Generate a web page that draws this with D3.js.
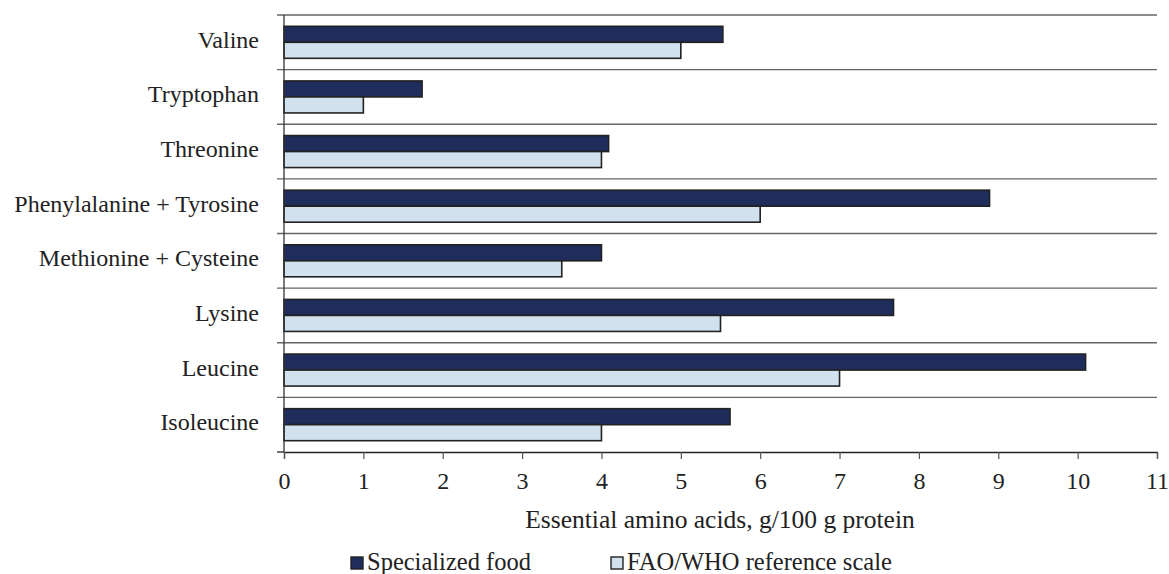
<!DOCTYPE html>
<html><head><meta charset="utf-8">
<script src="https://cdn.jsdelivr.net/npm/d3@7"></script>
<style>body{margin:0;background:#fff}</style>
</head><body>
<svg id="c" width="1169" height="574"></svg>
<script>
const categories = ["Valine","Tryptophan","Threonine","Phenylalanine + Tyrosine","Methionine + Cysteine","Lysine","Leucine","Isoleucine"];
const specialized = [5.53, 1.74, 4.09, 8.89, 4.0, 7.68, 10.1, 5.62];
const reference = [5.0, 1.0, 4.0, 6.0, 3.5, 5.5, 7.0, 4.0];
const seriesNames = ["Specialized food", "FAO/WHO reference scale"];
const xTicks = [0,1,2,3,4,5,6,7,8,9,10,11];
const colors = ["#1e2d5b", "#d1e1ee"];

(function () {
const svg = d3.select("#c");
const font = "'Liberation Serif','Times New Roman',serif";
const pLeft = 284, pRight = 1157, pTop = 15, pBottom = 452;
const x = d3.scaleLinear().domain([0, 11]).range([pLeft, pRight]);
const y = d3.scaleBand().domain(categories).range([pTop, pBottom]);
const inner = d3.scaleBand().domain([0,1]).range([0, 32]);

const bounds = categories.map(c => y(c));
svg.selectAll("line.grid").data(bounds).enter().append("line")
  .attr("x1", pLeft - 7).attr("x2", pRight).attr("y1", d => d).attr("y2", d => d)
  .attr("stroke", "#666").attr("stroke-width", 1.3);

const seriesData = [specialized, reference];
seriesData.forEach((vals, si) => {
  svg.selectAll("rect.s" + si).data(categories).enter().append("rect")
    .attr("x", x(0))
    .attr("y", d => y(d) + (y.bandwidth() - 32) / 2 + inner(si))
    .attr("width", (d, i) => x(vals[i]) - x(0))
    .attr("height", inner.bandwidth())
    .attr("fill", colors[si]).attr("stroke", "#222").attr("stroke-width", 1.6);
});

svg.append("line").attr("x1", pLeft).attr("x2", pLeft).attr("y1", pTop).attr("y2", pBottom)
  .attr("stroke", "#333").attr("stroke-width", 1.3);

svg.selectAll("text.cat").data(categories).enter().append("text")
  .attr("x", 259).attr("y", d => y(d) + y.bandwidth() / 2 + 5.5)
  .attr("text-anchor", "end").attr("font-family", font).attr("font-size", 24)
  .attr("fill", "#222").text(d => d);

const xAxis = d3.axisBottom(x).tickValues(xTicks).tickSize(7).tickFormat(d3.format("d"));
const gx = svg.append("g").attr("transform", `translate(0,${pBottom})`).call(xAxis);
gx.attr("font-family", null).attr("font-size", null);
gx.select(".domain").attr("stroke", "#222").attr("stroke-width", 1.3);
gx.selectAll(".tick line").attr("stroke", "#555").attr("stroke-width", 1.2);
gx.selectAll(".tick text").attr("font-family", font).attr("font-size", 24)
  .attr("fill", "#222").attr("dy", 0).attr("y", 37);
svg.append("line").attr("x1", pLeft - 7).attr("x2", pLeft).attr("y1", pBottom).attr("y2", pBottom)
  .attr("stroke", "#222").attr("stroke-width", 1.3);

svg.append("text").attr("x", 720).attr("y", 528).attr("text-anchor", "middle")
  .attr("font-family", font).attr("font-size", 25.5).attr("fill", "#222")
  .text("Essential amino acids, g/100 g protein");

const legendX = [351, 611];
seriesNames.forEach((n, i) => {
  svg.append("rect").attr("x", legendX[i]).attr("y", 557).attr("width", 12).attr("height", 12)
    .attr("fill", colors[i]).attr("stroke", "#222").attr("stroke-width", 1.4);
  svg.append("text").attr("x", legendX[i] + 16).attr("y", 569.5)
    .attr("font-family", font).attr("font-size", 24.5).attr("fill", "#222").text(n);
});
})();
</script>
</body></html>
